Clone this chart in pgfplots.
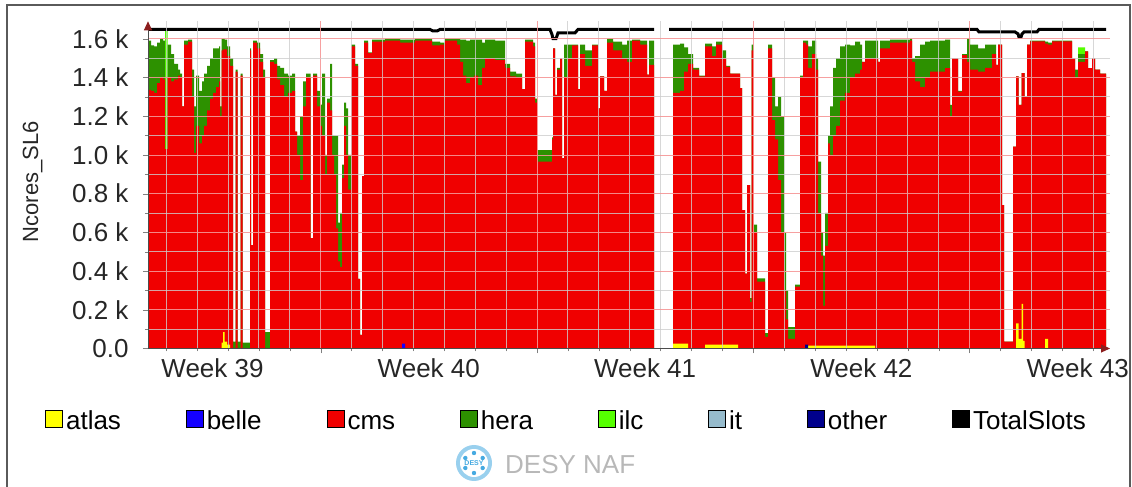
\documentclass[border=0pt]{standalone}
\usepackage{fontspec}
\setmainfont{Liberation Sans}
\usepackage{pgfplots}
\pgfplotsset{compat=1.18}
\usepackage{pgfplotstable}
\usetikzlibrary{arrows.meta}

\definecolor{cmsred}{RGB}{240,0,0}
\definecolor{heragreen}{RGB}{45,145,0}
\definecolor{ilcgreen}{RGB}{85,255,0}
\definecolor{atlasyellow}{RGB}{255,255,0}
\definecolor{belleblue}{RGB}{20,0,255}
\definecolor{itblue}{RGB}{150,187,204}
\definecolor{othernavy}{RGB}{0,0,140}
\definecolor{arrowred}{RGB}{140,30,30}
\definecolor{framegray}{RGB}{90,90,90}
\definecolor{majgrid}{RGB}{245,150,150}
\definecolor{mingrid}{RGB}{205,205,205}
\definecolor{logoblue}{RGB}{70,170,225}

\newcommand{\bigfont}{\fontsize{26}{31}\selectfont}
\newcommand{\labfont}{\fontsize{22}{26}\selectfont}

% x in pixel units of the time axis, G = total top, R = atlas+cms top, A = atlas
\pgfplotstableread{
x G R A
148 1590 1336 0
151 1565 1330 0
154 1560 1320 0
157 1580 1370 0
160 1600 1400 0
163 1590 1390 0
165 1030 1030 0
167.5 1570 1400 0
171 1520 1380 0
174 1470 1390 0
178 1440 1410 0
180 1420 1400 0
182 1250 1250 0
184 1590 1570 0
188 1595 1585 0
192 1440 1300 0
194 1250 1010 0
196 1410 1150 0
199 1330 1060 0
202 1380 1100 0
204 1420 1150 0
207 1460 1230 0
210 1500 1290 0
213 1550 1320 0
216 1550 1350 0
219 1560 1380 0
220 1250 1200 0
221.5 1600 1540 30
223 1600 1545 85
224.5 1595 1545 35
227 1560 1510 20
230 1500 1460 0
233 35 0 0
235.5 1440 1430 0
237.5 35 0 0
240.5 1420 1410 0
242.5 30 0 0
250 1550 1540 0
251 534 534 0
253 1590 1580 0
257 1580 1550 0
260 1520 1480 0
263 1440 1400 0
265 85 0 0
270 1490 1480 0
274 1500 1470 0
277 1460 1390 0
280 1450 1360 0
284 1420 1300 0
288 1410 1320 0
292 1420 1330 0
295 1120 1120 0
297 1100 1000 0
300 1200 870 0
303 1380 1250 0
306 1420 1400 0
310.5 570 570 0
313 1420 1410 0
317 1330 1250 0
320 1260 1150 0
322 1420 1100 0
325 1000 900 0
327 1290 1270 0
330 1470 1230 0
332 1100 1000 0
334 1100 900 0
336 1100 620 0
338 650 450 0
340 700 420 0
342 950 880 0
344 1270 1150 0
346 1240 1000 0
348 1000 820 0
351 1570 1560 0
355 1470 1460 0
358 360 360 0
360 70 70 0
362 890 890 0
364 1590 1580 0
368 1530 1525 0
372 1595 1585 0
385 1600 1590 0
400 1595 1580 0
415 1600 1590 0
432 1585 1565 0
440 1580 1570 0
445 1600 1590 0
457 1600 1570 0
460 1595 1480 0
463 1595 1410 0
466 1590 1370 0
470 1595 1400 0
474 1595 1410 0
478 1595 1360 0
482 1580 1450 0
485 1595 1500 0
495 1590 1490 0
505 1470 1450 0
510 1430 1405 0
516 1420 1400 0
522 1340 1340 0
525 1595 1585 0
533 1580 1560 0
535 1290 1270 0
537 1025 965 0
552 1090 1080 0
553 1550 1550 0
555 1310 1310 0
557 1450 1440 0
560 1500 1500 0
562 983 983 0
564 1570 1400 0
568 1570 1500 0
572 1570 1565 0
578 1340 1340 0
580 1570 1520 0
585 1540 1460 0
592 1570 1565 0
598 1240 1240 0
600 1405 1405 0
604 1330 1330 0
607 1600 1580 0
613 1585 1540 0
622 1570 1500 0
627 1590 1480 0
632 1595 1590 0
640 1590 1570 0
647 1414 1414 0
649 1590 1465 0
654 0 0 0
673 1570 1320 25
680 1575 1330 25
684 1555 1430 25
688 1520 1470 0
693 1450 1440 0
699 1410 1405 0
705 1575 1560 20
712 1560 1510 20
716 1585 1570 20
722 1540 1500 20
726 1460 1455 20
730 1420 1420 20
738 1420 1420 0
740 1345 1345 0
742 715 715 0
745 387 387 0
747 844 844 0
750 260 240 0
751.5 1570 1540 0
753.5 640 600 0
757 362 345 0
765 80 60 0
768 1570 1550 0
772 1400 1180 0
775 1250 1080 0
778 1300 870 0
781 1200 600 0
784 600 300 0
786 300 150 0
788 110 50 0
795 330 320 0
800 1410 1400 0
803 1590 1580 0
806 1590 1570 15
808 1560 1450 15
812 1590 1520 15
816 1500 1440 15
818 965 700 15
821 600 480 15
823 480 220 15
825 700 530 15
828 1100 1060 15
830 1250 1000 15
833 1450 1100 15
836 1500 1150 15
840 1560 1280 15
845 1570 1320 15
850 1565 1400 15
855 1585 1420 15
860 1570 1440 15
862 1480 1480 15
865 1590 1500 15
875 1590 1500 0
878 1480 1480 0
880 1590 1550 0
890 1595 1580 0
910 1600 1590 0
912 1500 1480 0
915 1510 1380 0
920 1570 1350 0
925 1585 1400 0
930 1590 1430 0
945 1595 1448 0
950 1258 1200 0
952 1500 1500 0
958 1330 1327 0
962 1520 1515 0
967 1600 1480 0
970 1570 1440 0
978 1550 1430 0
985 1570 1450 0
992 1570 1520 0
996 1465 1465 0
998 1570 1570 0
1002 741 741 0
1004 35 35 0
1013 1043 1043 0
1016 1405 1405 130
1018.5 1258 1258 50
1021.5 1422 1422 230
1023 1422 1422 40
1024.5 1301 1301 0
1027 1570 1570 0
1030 1590 1586 0
1045 1585 1575 50
1048 1580 1570 0
1052 1590 1586 0
1072 1500 1500 0
1075 1440 1396 0
1078 1520 1480 0
1085 1535 1535 0
1088 1448 1448 0
1092 1500 1500 0
1095 1440 1440 0
1100 1420 1420 0
1106 1420 1420 0
}\usage

\pgfplotsset{
  legbox/.style={legend image code/.code={%
    \draw[##1, draw=black, line width=0.8pt] (0pt,-8.5pt) rectangle (17pt,8.5pt);}},
}

\begin{document}
\begin{tikzpicture}
\path[use as bounding box] (0,0) rectangle (1132pt,487pt);
\draw[framegray, line width=1.5pt] (7pt,0) -- (7pt,482pt) -- (1130pt,482pt) -- (1130pt,0);

\begin{axis}[
  at={(148pt,138.5pt)}, anchor=south west,
  scale only axis, width=962pt, height=327.2pt,
  xmin=148, xmax=1110, ymin=0, ymax=1690,
  axis lines=left, axis on top,
  axis line style={draw=black!70, line width=1pt, -{Triangle[length=9pt,width=8pt,color=arrowred]}},
  tick label style={font=\bigfont, text=black!85},
  tick align=outside,
  major tick length=5pt, minor tick length=3pt,
  xtick={320.6,536.9,753.2,969.5},
  xticklabels={},
  minor xtick={166.1,197,227.9,258.8,289.7,351.5,382.4,413.3,444.2,475.1,506,567.8,598.7,629.6,660.5,691.4,722.3,784.1,815,845.9,876.8,907.7,938.6,1000.4,1031.3,1062.2,1093.1},
  extra x ticks={212.5,428.8,645.1,861.4,1077.7},
  extra x tick labels={Week 39,Week 40,Week 41,Week 42,Week 43},
  extra x tick style={xmajorgrids=false, major tick length=0pt,
     xticklabel style={yshift=-7pt}},
  xmajorgrids=true, xminorgrids=true,
  ytick={0,200,400,600,800,1000,1200,1400,1600},
  yticklabels={0.0,0.2 k,0.4 k,0.6 k,0.8 k,1.0 k,1.2 k,1.4 k,1.6 k},
  yticklabel style={xshift=-11pt},
  minor ytick={100,300,500,700,900,1100,1300,1500},
  ymajorgrids=true, yminorgrids=true,
  major grid style={draw=majgrid, line width=0.7pt, opacity=0.9},
  minor grid style={draw=mingrid, line width=0.7pt, opacity=0.8},
  ylabel={Ncores\_SL6},
  every axis y label/.style={at={(axis description cs:-0.12,0.51)}, rotate=90, anchor=center, font=\labfont, text=black!85},
  legend columns=8,
  legend style={at={(axis description cs:-0.107,-0.2155)}, anchor=west, draw=none, fill=none,
    font=\bigfont, inner sep=0pt, nodes={inner sep=3pt},
    /tikz/every even column/.append style={column sep=62pt}},
]
\addlegendimage{legbox, fill=atlasyellow}\addlegendentry{\strut atlas}
\addlegendimage{legbox, fill=belleblue}\addlegendentry{\strut belle}
\addlegendimage{legbox, fill=cmsred}\addlegendentry{\strut cms}
\addlegendimage{legbox, fill=heragreen}\addlegendentry{\strut hera}
\addlegendimage{legbox, fill=ilcgreen}\addlegendentry{\strut ilc}
\addlegendimage{legbox, fill=itblue}\addlegendentry{\strut it}
\addlegendimage{legbox, fill=othernavy}\addlegendentry{\strut other}
\addlegendimage{legbox, fill=black}\addlegendentry{\strut TotalSlots}

% ilc
\addplot[draw=none, fill=ilcgreen, const plot, forget plot] coordinates {
(148,0) (165,1640) (167.5,0) (1078,1555) (1085,0) (1106,0)} \closedcycle;
% hera (stack top)
\addplot[draw=none, fill=heragreen, const plot, forget plot] table[x=x,y=G]{\usage} \closedcycle;
% cms (atlas + cms)
\addplot[draw=none, fill=cmsred, const plot, forget plot] table[x=x,y=R]{\usage} \closedcycle;
% atlas
\addplot[draw=none, fill=atlasyellow, const plot, forget plot] table[x=x,y=A]{\usage} \closedcycle;
% belle
\addplot[draw=none, fill=belleblue, const plot, forget plot] coordinates {(148,0) (402,25) (405,0) (1106,0)} \closedcycle;
% other
\addplot[draw=none, fill=othernavy, const plot, forget plot] coordinates {(148,0) (805,20) (808,0) (1106,0)} \closedcycle;
% TotalSlots
\addplot[black, line width=3pt, forget plot] coordinates {
(148,1648) (430,1648) (433,1640) (437,1640) (440,1648) (550,1648) (552,1622) (553,1600) (556,1600) (558,1630) (575,1630) (578,1648) (654,1648)};
\addplot[black, line width=3pt, forget plot] coordinates {
(669,1648) (977,1648) (979,1635) (1015,1635) (1018,1625) (1019,1608) (1021,1608) (1022,1625) (1024,1635) (1037,1635) (1039,1648) (1106,1648)};
\end{axis}

% DESY NAF logo and text
\begin{scope}[shift={(474pt,24pt)}]
\fill[logoblue!55] (0,0) circle (18pt);
\fill[white] (0,0) circle (14pt);
\foreach \a in {90,150,210,270,330,30} \fill[logoblue] (\a:10pt) circle (2.2pt);
\node[font=\fontsize{7}{8}\selectfont\bfseries, text=logoblue, inner sep=0pt] at (0,0) {DESY};
\end{scope}
\node[anchor=west, font=\bigfont, text=black!28, inner sep=0pt] at (505pt,22pt) {DESY NAF};
\end{tikzpicture}
\end{document}
